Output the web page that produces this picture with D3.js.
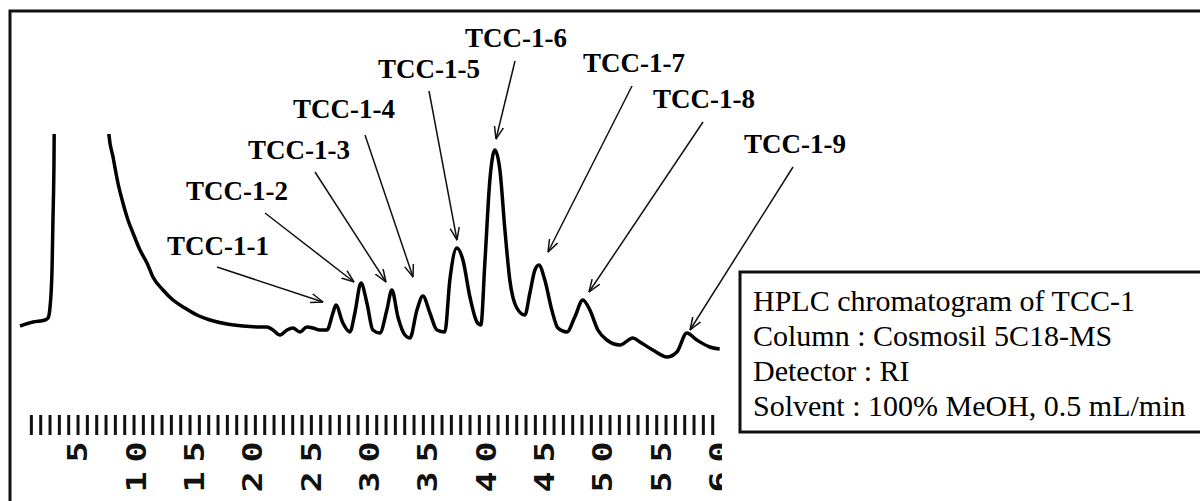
<!DOCTYPE html>
<html>
<head>
<meta charset="utf-8">
<script src="https://cdn.jsdelivr.net/npm/d3@7"></script>
<style>
  body { margin: 0; background: #fff; }
  svg { display: block; }
</style>
</head>
<body>
<div id="chart"></div>
<script>
// trace: retention time (min) and detector response
const times = [0.03, 1.14, 2.17, 2.43, 2.60, 2.77, 2.85, 2.94, 2.98, 7.61, 7.65, 8.00, 8.42, 8.85, 9.28, 9.71,
  10.31, 10.91, 11.42, 12.28, 13.14, 14.16, 15.19, 16.31, 17.76, 19.13, 20.59, 21.19, 21.71, 22.31, 22.91,
  23.42, 24.02, 24.62, 25.13, 25.73, 26.33, 26.85, 27.10, 27.70, 28.30, 28.73, 29.25, 29.76, 30.27, 30.87,
  31.47, 31.90, 32.42, 33.02, 33.45, 34.05, 34.56, 35.16, 35.76, 36.44, 36.87, 37.47, 37.99, 38.59, 39.19,
  39.53, 39.87, 40.30, 40.73, 41.16, 41.59, 42.01, 42.61, 43.30, 43.73, 44.16, 44.50, 45.01, 45.61, 46.13,
  46.90, 47.58, 48.27, 48.87, 49.56, 50.33, 51.44, 52.56, 53.16, 54.27, 55.47, 56.33, 57.18, 58.04, 59.15, 60.0];
const response = [34, 38, 40, 42, 53, 90, 140, 200, 260, 260, 225, 203, 177, 157, 140, 127,
  110, 97, 83, 70, 60, 52, 45, 40, 36, 34, 33, 33, 30, 25, 30,
  32, 28, 33, 32, 30, 30, 47, 55, 37, 28, 47, 77, 57, 30, 27,
  50, 70, 43, 25, 22, 50, 64, 47, 30, 28, 80, 112, 100, 63, 38,
  35, 97, 180, 210, 190, 130, 80, 52, 45, 67, 90, 95, 80, 50, 32,
  28, 43, 60, 50, 30, 20, 15, 22, 18, 10, 3, 8, 27, 20, 13, 11];

// ruler marks on the strip are closer than one per minute
const rulerTicks = d3.range(1, 59.6, 0.8);
const rulerLabels = [5, 10, 15, 20, 25, 30, 35, 40, 45, 50, 55, 60];

const peakNames = ['TCC-1-1', 'TCC-1-2', 'TCC-1-3', 'TCC-1-4', 'TCC-1-5', 'TCC-1-6', 'TCC-1-7', 'TCC-1-8', 'TCC-1-9'];
const infoLines = ['HPLC chromatogram of TCC-1', 'Column : Cosmosil 5C18-MS', 'Detector : RI', 'Solvent : 100% MeOH, 0.5 mL/min'];

// where each callout label and arrow sits (pixels)
const calloutLayout = [
  { tx: 167, ty: 255, x1: 217, y1: 267, x2: 323, y2: 302 },
  { tx: 186, ty: 200, x1: 265, y1: 213, x2: 354, y2: 282 },
  { tx: 248, ty: 159, x1: 315, y1: 172, x2: 386, y2: 282 },
  { tx: 293, ty: 118, x1: 365, y1: 135, x2: 413, y2: 277 },
  { tx: 378, ty: 78, x1: 429, y1: 91, x2: 457, y2: 240 },
  { tx: 465, ty: 47, x1: 515, y1: 61, x2: 496, y2: 139 },
  { tx: 583, ty: 72, x1: 632, y1: 86, x2: 548, y2: 252 },
  { tx: 653, ty: 108, x1: 703, y1: 122, x2: 589, y2: 292 },
  { tx: 744, ty: 153, x1: 793, y1: 167, x2: 690, y2: 330 }
];

const width = 1200;
const height = 501;

const svg = d3.select('#chart').append('svg')
  .attr('width', width)
  .attr('height', height);

const x = d3.scaleLinear().domain([0, 60]).range([19.7, 719.7]);
const y = d3.scaleLinear().domain([0, 240]).range([360, 120]);

const defs = svg.append('defs');
defs.append('clipPath').attr('id', 'trace-clip')
  .append('rect').attr('x', 10).attr('y', 134).attr('width', 712).attr('height', 240);
defs.append('clipPath').attr('id', 'ruler-clip')
  .append('rect').attr('x', 10).attr('y', 400).attr('width', 712).attr('height', 101);

defs.append('marker')
  .attr('id', 'head')
  .attr('viewBox', '0 -6 13 12')
  .attr('refX', 12.5)
  .attr('refY', 0)
  .attr('markerUnits', 'userSpaceOnUse')
  .attr('markerWidth', 13)
  .attr('markerHeight', 12)
  .attr('orient', 'auto')
  .append('path')
  .attr('d', 'M0,-4.6L12.5,0L0,4.6')
  .attr('fill', 'none')
  .attr('stroke', '#111')
  .attr('stroke-width', 1.5);

// outer frame (top and left edges only, the rest is cropped)
svg.append('path')
  .attr('d', `M10,${height}V11H${width}`)
  .attr('fill', 'none')
  .attr('stroke', '#111')
  .attr('stroke-width', 3);

// chromatogram trace
const points = times.map((t, i) => [t, response[i]]);
const line = d3.line()
  .x(d => x(d[0]))
  .y(d => y(d[1]))
  .curve(d3.curveMonotoneX);

svg.append('g').attr('clip-path', 'url(#trace-clip)')
  .append('path')
  .datum(points)
  .attr('d', line)
  .attr('fill', 'none')
  .attr('stroke', '#000')
  .attr('stroke-width', 3.5)
  .attr('stroke-linejoin', 'round');

// time ruler printed under the trace
const ruler = svg.append('g').attr('clip-path', 'url(#ruler-clip)');

ruler.selectAll('line.tick')
  .data(rulerTicks)
  .join('line')
  .attr('class', 'tick')
  .attr('x1', d => x(d))
  .attr('x2', d => x(d))
  .attr('y1', 415)
  .attr('y2', 435)
  .attr('stroke', '#111')
  .attr('stroke-width', 3);

const labelGroups = ruler.selectAll('g.rlabel')
  .data(rulerLabels)
  .join('g')
  .attr('class', 'rlabel')
  .attr('transform', d => `translate(${x(d)},0)`);

labelGroups.selectAll('text')
  .data(d => String(d).split('').reverse())
  .join('text')
  .attr('transform', (c, i) => `translate(0,${452 + i * 30}) rotate(-90) scale(1.35,1)`)
  .attr('text-anchor', 'middle')
  .attr('dy', '0.36em')
  .style('font-family', '"DejaVu Sans Mono", monospace')
  .style('font-weight', 'bold')
  .style('font-size', '26px')
  .attr('fill', '#111')
  .text(c => c);

// peak callouts
const callouts = svg.append('g');

callouts.selectAll('line')
  .data(calloutLayout)
  .join('line')
  .attr('x1', d => d.x1)
  .attr('y1', d => d.y1)
  .attr('x2', d => d.x2)
  .attr('y2', d => d.y2)
  .attr('stroke', '#111')
  .attr('stroke-width', 1.5)
  .attr('marker-end', 'url(#head)');

callouts.selectAll('text')
  .data(peakNames)
  .join('text')
  .attr('x', (d, i) => calloutLayout[i].tx)
  .attr('y', (d, i) => calloutLayout[i].ty)
  .style('font-family', '"Liberation Serif", "Times New Roman", serif')
  .style('font-weight', 'bold')
  .style('font-size', '27px')
  .attr('fill', '#000')
  .text(d => d);

// conditions box
const info = svg.append('g');

info.append('rect')
  .attr('x', 740)
  .attr('y', 272)
  .attr('width', 480)
  .attr('height', 160)
  .attr('fill', '#fff')
  .attr('stroke', '#111')
  .attr('stroke-width', 3);

info.selectAll('text')
  .data(infoLines)
  .join('text')
  .attr('x', 753)
  .attr('y', (d, i) => 311 + i * 35)
  .style('font-family', '"Liberation Serif", "Times New Roman", serif')
  .style('font-size', '30px')
  .attr('fill', '#000')
  .text(d => d);
</script>
</body>
</html>
